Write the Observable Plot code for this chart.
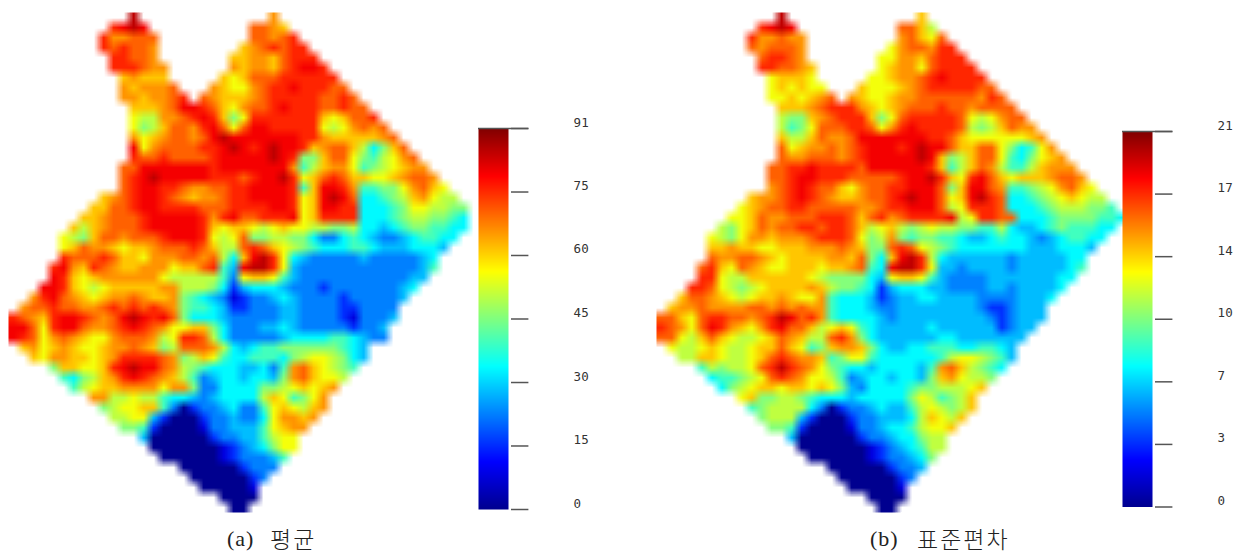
<!DOCTYPE html>
<html lang="ko"><head><meta charset="utf-8">
<script src="https://cdn.jsdelivr.net/npm/d3@7"></script>
<script src="https://cdn.jsdelivr.net/npm/@observablehq/plot@0.6"></script>
<style>
html,body{margin:0;padding:0;background:#fff;width:1240px;height:556px;overflow:hidden}
#stage{position:relative;width:1240px;height:556px}
#stage>div.p{position:absolute;top:0}
#stage svg{display:block;background:transparent}
.cap{position:absolute;white-space:pre;color:#222;line-height:1}
.cap.lat{top:528px;font-family:"Liberation Serif",serif;font-size:22px;letter-spacing:1px}
.cap.kor{top:527px;font-family:"Noto Sans CJK KR",sans-serif;font-weight:300;font-size:23px;letter-spacing:2px}
</style></head><body><div id="stage"></div>
<script>
// first filled column of each grid row
const gridStarts=[12,10,9,9,10,10,11,11,11,12,12,12,12,12,12,11,11,11,9,8,7,6,5,5,5,4,4,3,2,1,0,0,0,1,2,4,5,6,8,9,10,11,13,14,15,17,18,19,21,22];
// level codes (hex digit) for each grid row; "." is outside the map
const meanRows=[
"f.............b",
"defe..........ccba",
"dbbccc.........ccbcd",
"dcdccb........abcdcdd",
"ddccb.......aabbacddd",
"dddcbb......babbacdeed",
"abaaa.....a9acccdddddd",
"babbbc...ba99bcddedddcc",
"bbabbcd.cbaaabcdddddccdc",
"aaabceedca9bccdedddccdcc",
"988bbcdeda79ddddddda9accd",
"978accbdec9ceeddddd989bcbc",
"b9abccbcefeeeeeeeddbaaaaabc",
"e9bccccddefedefeedabcca857ac",
"dccdccccdeeeeefed77acc97689bc",
"cceeeeeeedeeeeeeeb68abb96789abb",
"cdefeeeeedddcdeefd9acdcaa99abccb",
"cdeeddcbbccddeeeed6aeedb66779bca9",
"abcdeedcbabbcddeeeed9aefec55678ab988",
"aaccdeeddddcccddddeed9aeedd55567998877",
"aabcccdeeeeedbdeccddde9adddd55567887765",
"a8abcccdeeeeeda9aa989a998877855456776655",
"987accbcccdeeed989c778877533565433456655",
"9acbba9aabcccdca88cdca98765556654445554",
"dcccdcaa9bbbccbc85aefd9543333343333345",
"debadcbaabbb9aacd64effd9433333333333346",
"eda9abbbbbb988888639aa9643333333333344",
"eeda989aaaaabb888752455543332333333345",
"bdecba9abbcbaab76543123345433332333334",
"bccdccbbcdcdcdcb7665422333443333223333",
"dcbadeedcbcefedec7555433333443333213334",
"eec9deecbbcdedcb99aa753334454333332334",
"edc9bcba99bcccb89ddc85333334555566 5433".replace(" ",""),
"ab9aba99abbcba78cccb854566777777654",
"a9bbaa9abddddcb78a9655666578998754",
"7aa99adefeecb87655544536bca9876",
"6578abdedcba86345545547bca998",
"689aabbbb9bb73355557789a9ab",
"bb8898865543455558a9679b",
"7899aa630233453369a98ab",
"88994200023343359bbab",
"7762000013344469abb",
"4000000233446899",
"000000012345799",
"0000001233346",
"0000002333",
"00000023",
"000001",
"0000",
"00"];
const sdRows=[
"f.............a",
"defe..........cca8",
"dbbcbb.........bca9c",
"cbcccb........9bccbdd",
"cddcb.......99bbacddd",
"ddccba......9abb9cdddd",
"9aaa9.....99abbcdedddd",
"9a9a99...a999abcdddddcc",
"99a9abc.ba99abbccccccbdc",
"aaabcdddba9abcccdccbcccc",
"877abcddda79cdddddc989bcc",
"8679cccddc9bdeddddc878acbb",
"a88acbbceeeeeeeddca999999ab",
"c9abbcbcdeeedefeecaacc97569b",
"cbbcccbcdeeeeefea78acc96579ab",
"ccddeddddceeeeeeda68acb8668abbb",
"ccdeedddcccccdeefda9deca9aaabccb",
"bcdedcca9bccddeeec7aeecb66789bca9",
"abbcdedcbaabccdefeec9aefdc556789a988",
"9abccddcccccbbcddeeec89dddc55567888776",
"99acbbcccdddcacdbcdddde89ddcc55567777665",
"879acbccddcddca89a8789887766854456766655",
"9879bbabbbcdddc978b767766544565543456655",
"aabaa99aaabbbcba77cdc987655555554445554",
"cbbccba9aaaabbac75aefd8544444434444455",
"cda9cba99aaa9aabc65effd9443444434444456",
"dd988aaaaaa987777549aa9643333444444455",
"ddc98789aaaaba877652455544333344344445",
"accba989aaba99b655542344554444333344 45".replace(" ",""),
"abbcbbbbccbcbcbb6555433444444443223444",
"cca9cddccbcdfecdb6555543444444444323444",
"dcb9cedba9bdecca89a9654444454444442344",
"cc98aca9889acba88cdb75444444554444444",
"9889a9889aaca967abba754455666556654",
"88aa9889acdcbba6799655555568998764",
"687889cdfdcb976554555546bca8765",
"566789cdcb9986345545547ab9887",
"5789aa9aa9a974355556778889a",
"9a7788765554555557 98678a".replace(" ",""),
"67888853023345446898 78a".replace(" ",""),
"78884200023344458a98a",
"776200001334556899a",
"4000000233455788",
"000000012345688",
"0000001233457",
"0000002334",
"00000023",
"000001",
"0000",
"00"];
const levelCodes="0123456789abcdef";
const meanLevels=[0,8,15.5,22.8,28.2,33.7,40,46,51,56,62,66.4,71,76.4,80.5,85.5];
const sdLevels=[0,1.9,3.6,5.3,6.5,7.8,9.2,10.6,11.8,12.9,14.3,15.3,16.4,17.6,18.6,19.7];
const jetStops=[0,0.125,0.375,0.625,0.875,1];
const jetColors=["#00008f","#0000ff","#00ffff","#ffff00","#ff0000","#800000"];
const meanMax=91, sdMax=21;
const meanTicks=[0,15.17,30.33,45.5,60.67,75.83,91];
const meanLabels=["0","15","30","45","60","75","91"];
const sdTicks=[0,3.5,7,10.5,14,17.5,21];
const sdLabels=["0","3","7","10","14","17","21"];
const gridCols=47, gridRowsN=50;

function decode(rows,levels){
  const out=new Array(gridCols*gridRowsN).fill(NaN);
  rows.forEach((s,r)=>{[...s].forEach((ch,i)=>{
    const k=levelCodes.indexOf(ch);
    const c=gridStarts[r]+i;
    if(k>=0&&c<gridCols) out[r*gridCols+c]=levels[k];
  });});
  return out;
}
function jetScale(max){return {type:"linear",domain:jetStops.map(t=>t*max),range:jetColors};}
function mapPlot(rows,levels,max){
  return Plot.plot({width:480,height:520,marginTop:12,marginBottom:8,marginLeft:8,marginRight:2,
    x:{domain:[0,gridCols],axis:null},y:{domain:[0,gridRowsN],reverse:true,axis:null},
    color:jetScale(max),
    marks:[Plot.raster(decode(rows,levels),{width:gridCols,height:gridRowsN,x1:0,x2:gridCols,y1:0,y2:gridRowsN,imageRendering:"auto"})]});
}
function barPlot(ticks,labels,max,yRange){
  const rows=ticks.map((t,i)=>({t,label:labels[i]}));
  return Plot.plot({width:126,height:520,margin:0,
    x:{domain:[0,1],range:[8,38],axis:null},y:{domain:[0,max],range:yRange,axis:null},
    color:jetScale(max),
    marks:[
      Plot.raster({fill:(x,y)=>y,x1:0,x2:1,y1:0,y2:max,width:2,height:256}),
      Plot.ruleY([max],{x1:0,x2:1.68,stroke:"#555",strokeWidth:1.5}),
      Plot.ruleY(ticks,{x1:1.1,x2:1.68,stroke:"#555",strokeWidth:1.5}),
      Plot.text(rows,{x:()=>3.17,y:"t",text:"label",textAnchor:"start",dy:-6,fontFamily:"DejaVu Sans Mono",fontSize:12.5,fill:"#333"})
    ]});
}
const stage=document.getElementById("stage");
function place(node,left){const d=document.createElement("div");d.className="p";d.style.left=left+"px";d.appendChild(node);stage.appendChild(d);}
place(mapPlot(meanRows,meanLevels,meanMax),0);
place(barPlot(meanTicks,meanLabels,meanMax,[509,128]),470);
place(mapPlot(sdRows,sdLevels,sdMax),648);
place(barPlot(sdTicks,sdLabels,sdMax,[506.5,131]),1114);
function cap(text,cls,left){const d=document.createElement("div");d.className="cap "+cls;d.style.left=left+"px";d.textContent=text;stage.appendChild(d);}
cap("(a)","lat",227);
cap("평균","kor",270);
cap("(b)","lat",870);
cap("표준편차","kor",917);
</script></body></html>
